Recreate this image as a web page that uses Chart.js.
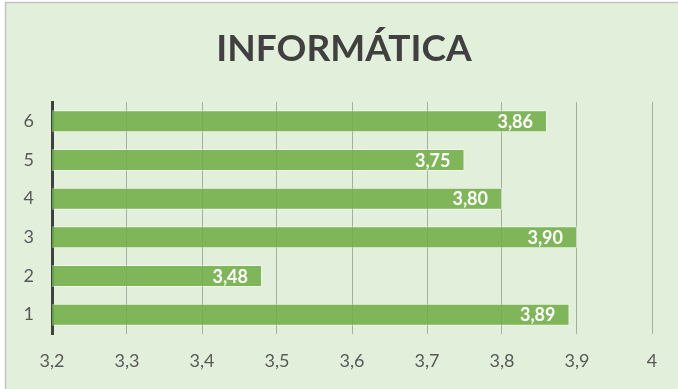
<!DOCTYPE html>
<html>
<head>
<meta charset="utf-8">
<script src="https://cdn.jsdelivr.net/npm/chart.js@4/dist/chart.umd.min.js"></script>
<style>
  html, body { margin: 0; padding: 0; background: #fff; }
  #wrap { width: 678px; height: 389px; position: relative; }
</style>
</head>
<body>
<div id="wrap"><canvas id="chart"></canvas></div>
<script>
const chartTitle = 'INFORMÁTICA';
const categories = ['1', '2', '3', '4', '5', '6'];
const scores = [3.89, 3.48, 3.90, 3.80, 3.75, 3.86];
const axisMin = 3.2;
const axisMax = 4;
const axisStep = 0.1;

// axis ticks drop trailing zeros, bar values keep two decimals
function tickText(v) {
  return Number(v.toFixed(1)).toString().replace('.', ',');
}
function valueText(v) {
  return v.toFixed(2).replace('.', ',');
}

// background panel, frame and title
const panel = {
  id: 'panel',
  beforeDraw(chart) {
    const c = chart.ctx;
    c.save();
    c.fillStyle = '#ffffff';
    c.fillRect(0, 0, chart.width, chart.height);
    c.fillStyle = '#e2efda';
    c.fillRect(5, 2, chart.width - 5, chart.height - 2);
    c.strokeStyle = '#c4c4c4';
    c.lineWidth = 1.5;
    c.beginPath();
    c.moveTo(5.5, chart.height);
    c.lineTo(5.5, 2.5);
    c.lineTo(chart.width, 2.5);
    c.stroke();
    c.fillStyle = '#404040';
    c.font = 'bold 37px Lato';
    c.textAlign = 'center';
    c.textBaseline = 'middle';
    c.fillText(chartTitle, 344, 49);
    c.restore();
  }
};

// value labels inside the bar ends
const barLabels = {
  id: 'barLabels',
  afterDatasetsDraw(chart) {
    const c = chart.ctx;
    const meta = chart.getDatasetMeta(0);
    c.save();
    c.fillStyle = '#ffffff';
    c.font = 'bold 18px Lato';
    c.textAlign = 'right';
    c.textBaseline = 'middle';
    meta.data.forEach((bar, i) => {
      c.fillText(valueText(scores[i]), bar.x - 14, bar.y + 1);
    });
    c.restore();
  }
};

new Chart(document.getElementById('chart'), {
  type: 'bar',
  data: {
    labels: categories,
    datasets: [{
      data: scores,
      backgroundColor: 'rgba(112,173,71,0.87)',
      borderColor: 'rgba(255,255,255,0.45)',
      borderWidth: 1,
      categoryPercentage: 1,
      barPercentage: 0.57
    }]
  },
  options: {
    indexAxis: 'y',
    responsive: true,
    maintainAspectRatio: false,
    animation: false,
    layout: { padding: { top: 102, right: 26, bottom: 0, left: 0 } },
    plugins: {
      legend: { display: false },
      title: { display: false },
      tooltip: { enabled: false }
    },
    scales: {
      x: {
        min: axisMin,
        max: axisMax,
        afterFit(scale) { scale.height = 55; },
        ticks: {
          stepSize: axisStep,
          padding: 16,
          color: '#595959',
          font: { family: 'Lato', size: 18 },
          callback: v => tickText(v)
        },
        grid: { color: '#a9aca4', lineWidth: 1, drawTicks: false },
        border: { display: false }
      },
      y: {
        reverse: true,
        afterFit(scale) { scale.width = 52; },
        ticks: {
          padding: 18,
          color: '#595959',
          font: { family: 'Lato', size: 18 }
        },
        grid: { display: false, drawTicks: false },
        border: { display: true, color: '#404040', width: 3 }
      }
    }
  },
  plugins: [panel, barLabels]
});
</script>
</body>
</html>
